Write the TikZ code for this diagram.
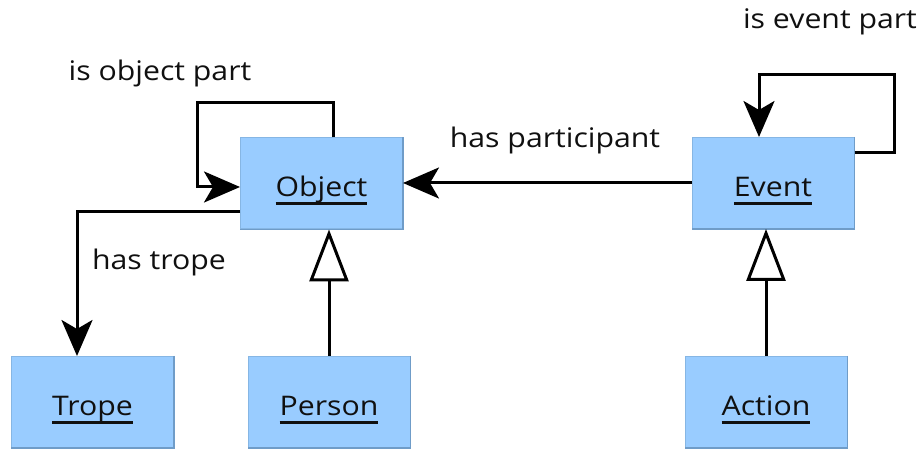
\documentclass[tikz,border=0pt]{standalone}
\usepackage{fontspec}
\setmainfont{Open Sans}[FakeStretch=1.12]
\usetikzlibrary{arrows.meta}
\definecolor{boxfill}{HTML}{99CCFF}
\definecolor{boxedge}{HTML}{86B6E4}
\definecolor{boxshade}{HTML}{6F9CC8}
\definecolor{ink}{HTML}{101010}
% class name with a heavy underline
\newcommand{\umlname}[1]{\setbox0\hbox{#1}\rlap{\rule[-8.5pt]{\wd0}{3pt}}\box0}

\begin{document}
\begin{tikzpicture}[x=1pt,y=1pt,
  classbox/.style={fill=boxfill, draw=boxedge, line width=1pt,
    minimum width=162pt, minimum height=91pt, inner sep=0pt,
    text height=35pt, text depth=8pt,
    font=\fontsize{27}{32}\selectfont, text=ink},
  linklabel/.style={font=\fontsize{27}{32}\selectfont, text=ink, inner sep=0pt},
  assoc/.style={-{Stealth[length=36pt,width=31pt,inset=9pt]}, line width=3pt, draw=black},
  gen/.style={-{Triangle[open,length=52pt,width=39pt,fill=white]}, line width=3pt, draw=black}]
\useasboundingbox (0,0) rectangle (922,449);

% classes
\node[classbox] (object) at (321.5,265.5) {\umlname{Object}};
\node[classbox] (event)  at (773,266)     {\umlname{Event}};
\node[classbox] (trope)  at (92.5,47)     {\umlname{Trope}};
\node[classbox] (person) at (329,47)      {\umlname{Person}};
\node[classbox] (action) at (766,47)      {\umlname{Action}};

% darker lower-right edges
\foreach \n in {object,event,trope,person,action}
  \draw[boxshade, line width=1.2pt] (\n.north east) -- (\n.south east) -- (\n.south west);

% association labels
\node[linklabel] (lobj)   at (160,376) {is object part};
\node[linklabel] (lpart)  at (555,309) {has participant};
\node[linklabel] (ltrope) at (159,187) {has trope};
\node[linklabel] (levent) at (830,427) {is event part};

% associations
\draw[assoc] (event.west) -- (event.west -| object.east);
\draw[assoc] ([xshift=11.5pt]object.north) -- ++(0,35)
  -| ([xshift=-43pt,yshift=-3.5pt]object.west) -- ([yshift=-3.5pt]object.west);
\draw[assoc] ([yshift=-28.5pt]object.west) -| ([xshift=-15.5pt]trope.north);
\draw[assoc] ([yshift=30pt]event.east) -- ++(40,0)
  |- ([xshift=-14pt,yshift=62pt]event.north) -- ([xshift=-14pt]event.north);

% generalizations
\draw[gen] (person.north) -- (person.north |- object.south);
\draw[gen] (action.north) -- (action.north |- event.south);
\end{tikzpicture}
\end{document}
